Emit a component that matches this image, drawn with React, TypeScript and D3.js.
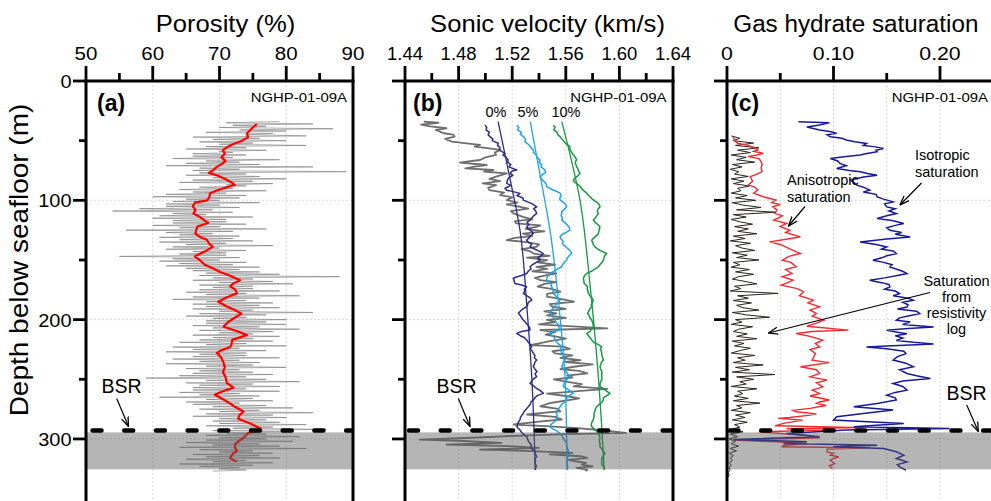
import React from "react";
import * as d3 from "d3";

type Pair = [number, number]; // [depth (m), value]

const FONT = "'Liberation Sans', Arial, Helvetica, sans-serif";

// ---------------- shared depth axis ----------------
const depthMajor = [0, 100, 200, 300];
const depthLabels = ["0", "100", "200", "300"];
const depthMinor = [50, 150, 250];
const bsrDepth = 293;
const freeGasTop = 294.5;
const freeGasBottom = 325.5;

// ---------------- panel a: porosity ----------------
const porMajor = [50, 60, 70, 80, 90];
const porLabels = ["50", "60", "70", "80", "90"];
const porMinor = [55, 65, 75, 85];
const porGrid = [60, 70, 80];
const porRawStart = 34;
const porRawStep = 1;
const porRaw = [
  79, 71, 84, 72, 77, 70, 87, 73, 80, 68, 78, 74, 83, 66,
  76, 69, 80, 67, 75, 70, 83, 68, 74, 65, 77, 70, 72, 66,
  74, 66, 72, 63, 79, 68, 73, 65, 76, 62, 84, 67, 73, 66,
  89, 67, 74, 65, 76, 69, 80, 66, 75, 64, 78, 71, 74, 67,
  72, 64, 77, 66, 71, 62, 74, 60, 73, 65, 70, 63, 76, 62,
  70, 62, 73, 58, 69, 54, 72, 63, 68, 61, 75, 60, 71, 63,
  71, 63, 74, 60, 70, 64, 77, 56, 72, 62, 69, 64, 73, 61,
  72, 64, 75, 61, 71, 65, 78, 63, 70, 62, 74, 66, 71, 64,
  71, 55, 73, 63, 70, 61, 74, 64, 72, 62, 76, 65, 73, 66,
  76, 68, 79, 67, 88, 69, 75, 66, 78, 70, 81, 67, 75, 69,
  75, 67, 79, 65, 74, 68, 82, 66, 76, 63, 74, 68, 78, 66,
  76, 68, 79, 66, 75, 70, 84, 67, 77, 65, 74, 69, 80, 68,
  77, 68, 80, 66, 76, 69, 82, 67, 78, 70, 75, 66, 79, 69,
  75, 67, 78, 64, 74, 68, 80, 63, 73, 66, 77, 62, 74, 67,
  74, 66, 79, 63, 73, 67, 76, 62, 75, 68, 80, 65, 73, 67,
  75, 66, 78, 64, 74, 59, 77, 68, 82, 65, 75, 67, 79, 66,
  74, 66, 79, 64, 73, 67, 76, 61, 75, 68, 78, 65, 73, 66,
  77, 69, 81, 67, 76, 70, 84, 68, 78, 66, 80, 70, 77, 69,
  79, 70, 83, 68, 78, 72, 86, 69, 80, 71, 77, 68, 82, 70,
  77, 68, 81, 65, 76, 69, 79, 64, 83, 67, 75, 70, 78, 66,
  76, 68, 79, 65, 74, 69, 78, 64, 75, 67, 73, 70, 74, 69,
];
const porSmooth: Pair[] = [
  [36, 75.6], [40, 74.8], [44, 74.1], [47, 74.3], [50, 73.4], [53, 72.0], [56, 71.0], [58, 70.5],
  [61, 70.8], [64, 70.3], [67, 70.9], [69, 70.5], [72, 69.6], [75, 69.0], [77, 68.4], [79, 69.6],
  [82, 70.8], [85, 71.8], [87, 72.3], [90, 70.6], [92, 69.5], [94, 68.6], [97, 68.5], [100, 68.2],
  [102, 66.3], [105, 66.0], [108, 66.4], [111, 66.1], [114, 67.1], [117, 67.8], [119, 68.3],
  [122, 66.7], [125, 66.5], [128, 66.4], [131, 67.2], [133, 68.1], [136, 68.4], [139, 69.0],
  [142, 68.1], [145, 67.0], [147, 66.3], [150, 67.0], [154, 67.8], [157, 69.0], [160, 70.1],
  [163, 71.5], [167, 73.1], [170, 72.0], [172, 71.6], [175, 72.4], [178, 72.6], [181, 71.2],
  [185, 69.8], [189, 71.1], [192, 72.3], [195, 73.3], [198, 72.4], [202, 71.3], [206, 70.6],
  [210, 72.8], [213, 74.1], [217, 71.9], [221, 71.8], [223, 71.6], [226, 70.2], [228, 69.6],
  [232, 70.3], [236, 70.6], [240, 70.8], [244, 70.5], [248, 70.9], [253, 71.1], [257, 72.1],
  [260, 70.5], [263, 69.3], [267, 70.6], [270, 71.5], [273, 72.3], [277, 73.6], [280, 73.0],
  [283, 72.8], [287, 74.6], [291, 76.1], [293, 75.5], [295, 74.3], [298, 73.8], [301, 73.1],
  [304, 72.4], [307, 72.3], [310, 72.6], [312, 72.1], [314, 71.8], [316, 71.6], [318, 72.2], [319, 72.6],
];

// ---------------- panel b: sonic velocity ----------------
const velMajor = [1.44, 1.48, 1.52, 1.56, 1.6, 1.64];
const velLabels = ["1.44", "1.48", "1.52", "1.56", "1.60", "1.64"];
const velMinor = [1.46, 1.5, 1.54, 1.58, 1.62];
const velGrid = [1.48, 1.52, 1.56, 1.6];
const velMeasured: Pair[] = [
  [34, 1.454], [35, 1.465], [36.5, 1.452], [38, 1.459], [39.6, 1.471], [41, 1.463], [43.8, 1.469],
  [45, 1.476], [46.6, 1.477], [48.5, 1.47], [50.8, 1.475], [52.2, 1.486], [53.6, 1.496], [55, 1.492],
  [56.4, 1.503], [57.8, 1.511], [60, 1.507], [62, 1.508], [64, 1.5], [66.2, 1.496], [67.5, 1.486],
  [68.4, 1.481], [70.4, 1.501], [71.8, 1.492], [73.2, 1.485], [74.6, 1.506], [76, 1.499], [77.5, 1.516],
  [80.2, 1.508], [82, 1.503], [84, 1.511], [85.8, 1.498], [87.2, 1.508], [89.5, 1.502], [91.4, 1.503],
  [93.5, 1.514], [95.6, 1.511], [97.5, 1.52], [99.8, 1.516], [102, 1.524], [103.5, 1.516], [105.4, 1.526],
  [107, 1.532], [109, 1.519], [111, 1.521], [113.8, 1.528], [116, 1.535], [117.5, 1.522], [119.4, 1.523],
  [121, 1.541], [122.2, 1.538], [124, 1.53], [126, 1.544], [127.9, 1.528], [130, 1.535], [131.5, 1.522],
  [133.4, 1.516], [135, 1.531], [137, 1.54], [139, 1.538], [141, 1.527], [142.5, 1.533], [144.6, 1.536],
  [146.5, 1.548], [148, 1.531], [150.1, 1.546], [152, 1.539], [154, 1.552], [155.7, 1.538], [157.5, 1.546],
  [159.5, 1.535], [161.3, 1.553], [163, 1.545], [165, 1.537], [166.9, 1.541], [168.5, 1.553], [170, 1.544],
  [172.4, 1.539], [174.5, 1.55], [176.6, 1.556], [178.5, 1.546], [180.8, 1.546], [183, 1.558], [185, 1.566],
  [187, 1.548], [189.2, 1.55], [191, 1.56], [193, 1.544], [194.7, 1.553], [196.5, 1.546], [198.5, 1.56],
  [200.3, 1.546], [202, 1.552], [204, 1.54], [205.5, 1.562], [207.3, 1.591], [208.7, 1.541], [210.5, 1.552],
  [212.5, 1.545], [214.3, 1.553], [216, 1.56], [218, 1.548], [220, 1.54], [221.3, 1.533], [222.7, 1.558],
  [224.5, 1.563], [226.5, 1.55], [228.3, 1.552], [230, 1.565], [232, 1.556], [233.9, 1.571], [235.5, 1.56],
  [237.5, 1.58], [239.5, 1.566], [241.5, 1.556], [243, 1.57], [245, 1.576], [247, 1.561], [248.5, 1.565],
  [250, 1.551], [252, 1.56], [254, 1.572], [256, 1.566], [258, 1.591], [260, 1.569], [262, 1.546],
  [264, 1.56], [266, 1.57], [268, 1.559], [270, 1.548], [272.6, 1.541], [274.5, 1.553], [276.8, 1.556],
  [278, 1.545], [279.5, 1.531], [281.5, 1.552], [283.7, 1.557], [285.5, 1.54], [287.9, 1.521], [289.5, 1.548],
  [290.7, 1.566], [292.5, 1.585], [294.9, 1.605], [296, 1.56], [297.7, 1.517], [299, 1.49], [300.5, 1.451],
  [301.5, 1.48], [303.3, 1.512], [304.7, 1.471], [306.1, 1.518], [307.5, 1.54], [308.9, 1.496], [310, 1.53],
  [311.7, 1.565], [313, 1.548], [314.5, 1.571], [315.9, 1.576], [317.5, 1.562], [318.7, 1.567], [320, 1.575],
  [321.5, 1.572], [323, 1.58], [324.3, 1.568], [326, 1.576], [327, 1.575],
];
const vel0: Pair[] = [
  [37, 1.4997], [39, 1.501], [41, 1.5005], [43, 1.503], [45, 1.502], [46.6, 1.5034], [48.5, 1.5055], [50, 1.505],
  [52.2, 1.5096], [54, 1.509], [56, 1.511], [58, 1.5105], [60.6, 1.5146], [62, 1.513], [64, 1.5155], [66.2, 1.517],
  [68, 1.5165], [70, 1.519], [72, 1.5175], [74.6, 1.5234], [75.5, 1.52], [77.4, 1.5184], [79, 1.5205], [81, 1.5175],
  [83, 1.5165], [85.8, 1.5159], [87.5, 1.519], [89.9, 1.5146], [91.5, 1.516], [92.5, 1.52], [94.2, 1.5258],
  [96, 1.5235], [98, 1.528], [99.8, 1.5283], [101.5, 1.532], [103, 1.535], [105.4, 1.5383], [107, 1.536],
  [109, 1.5375], [111, 1.5383], [113, 1.536], [115, 1.5345], [116.6, 1.5333], [118.5, 1.531], [120.5, 1.5325],
  [122.2, 1.5308], [124, 1.532], [126, 1.5345], [127.8, 1.5358], [129.5, 1.534], [131.5, 1.5325], [133.4, 1.5308],
  [135, 1.532], [137, 1.5345], [139, 1.5333], [141, 1.537], [142.8, 1.5405], [144.6, 1.5432], [146.5, 1.5415],
  [148.5, 1.539], [150.1, 1.5408], [152, 1.538], [154, 1.535], [155.7, 1.5333], [157.5, 1.534], [159.5, 1.532],
  [161.3, 1.5308], [163, 1.527], [164.5, 1.5225], [165.5, 1.5208], [167.5, 1.5215], [169.7, 1.522], [171, 1.527],
  [172.4, 1.5308], [174.5, 1.529], [176, 1.5295], [178, 1.5283], [180, 1.531], [181.8, 1.5335], [183.6, 1.5346],
  [185.5, 1.532], [187.5, 1.5315], [189.2, 1.5308], [191, 1.528], [193, 1.526], [194.7, 1.5246], [196.5, 1.526],
  [198.5, 1.527], [200.3, 1.5283], [202.5, 1.53], [204.5, 1.5315], [206.5, 1.533], [208.7, 1.5333], [210, 1.527],
  [211.5, 1.5234], [213.5, 1.526], [215, 1.529], [217, 1.5308], [219, 1.532], [220.8, 1.5335], [222.6, 1.5346],
  [224.5, 1.5335], [226.5, 1.535], [228.2, 1.5358], [230, 1.537], [232, 1.5365], [233.8, 1.5383], [235.5, 1.537],
  [237.5, 1.5365], [239.4, 1.5358], [241.5, 1.537], [243.5, 1.5385], [245.5, 1.537], [247.8, 1.5383], [250, 1.5355],
  [251.5, 1.5345], [253.4, 1.5333], [255.5, 1.536], [257.5, 1.538], [259.5, 1.541], [261.8, 1.5433], [263.5, 1.539],
  [265.5, 1.537], [267.4, 1.5358], [269, 1.534], [271, 1.5335], [273, 1.532], [275, 1.5305], [276.8, 1.529],
  [278.5, 1.5283], [280.5, 1.527], [282.5, 1.526], [284.1, 1.5258], [286, 1.5245], [287.8, 1.524], [289.7, 1.5234],
  [291, 1.5245], [292.5, 1.5258], [294.5, 1.527], [296.5, 1.529], [298, 1.5308], [300, 1.5315], [301.8, 1.532],
  [303.6, 1.5333], [305.5, 1.5345], [307.5, 1.5335], [309.2, 1.5358], [311, 1.537], [313, 1.5375], [314.8, 1.5383],
  [316.5, 1.537], [318.5, 1.5375], [320.4, 1.537], [322.5, 1.538], [324.5, 1.5375], [326, 1.5372],
];
const vel5: Pair[] = [
  [37, 1.5234], [39, 1.525], [41, 1.524], [43, 1.527], [44.5, 1.526], [46.6, 1.5283], [49, 1.53], [51, 1.5295],
  [53, 1.532], [55, 1.5335], [57.8, 1.5358], [60, 1.536], [62, 1.538], [64, 1.5385], [66.2, 1.5408], [68, 1.54],
  [70, 1.542], [72, 1.5415], [74.6, 1.5445], [76.5, 1.545], [78.5, 1.5425], [80.5, 1.5408], [82.5, 1.542],
  [84.5, 1.544], [86.5, 1.5455], [88.5, 1.5457], [90.5, 1.549], [92, 1.552], [94, 1.5557], [96, 1.5565],
  [98, 1.5555], [99.7, 1.5557], [101.5, 1.558], [103.5, 1.56], [105.4, 1.5607], [107.5, 1.559], [109.5, 1.557],
  [111, 1.557], [113, 1.5565], [114.8, 1.5575], [116.6, 1.557], [118.5, 1.559], [120.5, 1.561], [122.5, 1.5625],
  [125, 1.5631], [127, 1.56], [128.8, 1.557], [130.6, 1.5557], [132.5, 1.5565], [134.3, 1.558], [136.2, 1.5575],
  [138, 1.559], [140, 1.561], [142.5, 1.5635], [144.6, 1.5644], [146.5, 1.5625], [148.5, 1.561], [150.1, 1.5607],
  [152, 1.559], [154, 1.5575], [155.7, 1.557], [157.5, 1.554], [159.5, 1.551], [161.3, 1.5482], [163, 1.547],
  [165, 1.546], [166.9, 1.5457], [168.5, 1.5475], [170.5, 1.549], [172.4, 1.5495], [174.5, 1.55], [176.5, 1.5505],
  [178, 1.5507], [180, 1.5525], [182, 1.554], [183.6, 1.5557], [185.5, 1.5545], [187.5, 1.5525], [189.2, 1.552],
  [191, 1.55], [193, 1.549], [194.7, 1.5482], [196.5, 1.5495], [198.5, 1.551], [200.3, 1.552], [202.5, 1.553],
  [204.5, 1.5545], [206.5, 1.555], [208.7, 1.5557], [210, 1.5515], [211.5, 1.5482], [213.5, 1.55], [215, 1.5515],
  [217, 1.552], [219, 1.5535], [220.8, 1.555], [222.6, 1.557], [224.5, 1.556], [226.5, 1.5565], [228.2, 1.557],
  [230, 1.558], [232, 1.5585], [233.8, 1.5594], [236, 1.558], [238, 1.5575], [239.4, 1.557], [241.5, 1.558],
  [243.5, 1.56], [245.5, 1.5615], [247.8, 1.5632], [250, 1.561], [252, 1.5595], [254, 1.5585], [256, 1.5581],
  [258, 1.561], [260, 1.5635], [261.8, 1.5656], [263.5, 1.563], [265.5, 1.5605], [267.4, 1.5607], [269, 1.559],
  [271, 1.557], [273, 1.5557], [275, 1.5545], [276.8, 1.5535], [278.5, 1.553], [280.5, 1.5535], [282.5, 1.553],
  [284.1, 1.5532], [286, 1.551], [287.8, 1.549], [289.7, 1.5482], [291.5, 1.55], [293, 1.5532], [295, 1.555],
  [297, 1.557], [299.4, 1.5581], [301.5, 1.5595], [303.5, 1.5605], [306.5, 1.5607], [308.5, 1.5615], [310.5, 1.562],
  [312, 1.5632], [314, 1.562], [316, 1.561], [317.7, 1.5607], [319.5, 1.561], [321.5, 1.5605], [323.3, 1.5615], [325.5, 1.561],
];
const vel10: Pair[] = [
  [37, 1.5507], [39, 1.552], [41, 1.551], [43, 1.5535], [45, 1.554], [46.6, 1.5557], [48.5, 1.557], [50.5, 1.5585],
  [52.5, 1.56], [55, 1.5631], [57, 1.563], [59, 1.564], [61, 1.565], [63, 1.5665], [66, 1.5681], [68, 1.567],
  [70, 1.5675], [71.8, 1.5681], [73.5, 1.569], [75.5, 1.5695], [77.4, 1.5706], [79.5, 1.569], [81.5, 1.5665],
  [83.5, 1.5656], [85.5, 1.5675], [87.5, 1.57], [89.5, 1.5715], [91.5, 1.573], [94.1, 1.5756], [96, 1.577],
  [98, 1.579], [99.7, 1.5805], [101.5, 1.583], [103.5, 1.585], [105.4, 1.5855], [107.5, 1.584], [109.5, 1.5835],
  [111, 1.5843], [113, 1.583], [114.8, 1.582], [116.6, 1.5805], [118.5, 1.582], [120.5, 1.584], [122.2, 1.5855],
  [124.5, 1.585], [126.5, 1.5845], [128, 1.5843], [130, 1.5825], [131.5, 1.581], [133.4, 1.5793], [135, 1.58],
  [137, 1.5805], [139, 1.5818], [141, 1.584], [142.8, 1.587], [144.6, 1.5905], [146.5, 1.589], [148.5, 1.5885],
  [150.1, 1.588], [152, 1.587], [154, 1.5855], [155.7, 1.5843], [157.5, 1.582], [159.5, 1.579], [161.3, 1.5756],
  [163, 1.574], [165.5, 1.5731], [167.5, 1.5735], [169.7, 1.5737], [171, 1.575], [172.4, 1.5762], [174.5, 1.576],
  [176, 1.5765], [178, 1.5768], [180, 1.578], [181.8, 1.5795], [183.6, 1.5805], [185.5, 1.58], [187.5, 1.579],
  [189.2, 1.5793], [191, 1.578], [193, 1.577], [194.7, 1.5762], [196.5, 1.5775], [198.5, 1.578], [200.3, 1.5793],
  [202.5, 1.58], [204.5, 1.5805], [206, 1.5805], [208, 1.579], [210, 1.578], [211.5, 1.5756], [213.5, 1.577],
  [215, 1.578], [217, 1.5793], [219, 1.581], [220.8, 1.584], [222.6, 1.5868], [224.5, 1.586], [226.5, 1.5865],
  [228.2, 1.5868], [230, 1.587], [232, 1.5875], [233.8, 1.588], [236, 1.5865], [238, 1.586], [239.4, 1.5855],
  [241.5, 1.586], [243.5, 1.587], [245.5, 1.5868], [247.8, 1.5868], [250, 1.587], [252, 1.586], [254, 1.5855],
  [256, 1.5855], [258, 1.588], [260, 1.5905], [261.8, 1.593], [263.5, 1.591], [265.5, 1.588], [267.4, 1.588],
  [269, 1.587], [271, 1.585], [273, 1.583], [275, 1.582], [276.8, 1.5818], [278.5, 1.581], [280.5, 1.5812],
  [282.5, 1.5808], [284, 1.5805], [286, 1.5795], [287.8, 1.579], [289.7, 1.5793], [291.5, 1.581], [293, 1.5825],
  [295, 1.584], [297, 1.585], [299.4, 1.5855], [301.5, 1.585], [303.5, 1.5855], [306.5, 1.5855], [308.5, 1.587],
  [310.5, 1.588], [312, 1.5893], [314, 1.588], [316, 1.587], [317.7, 1.5868], [319.5, 1.587], [321.5, 1.5868],
  [323.3, 1.5885], [325.5, 1.5887],
];
const trend0: Pair[] = [[34, 1.5095], [80, 1.518], [125, 1.5258], [190, 1.531], [248, 1.5346], [326, 1.5372]];
const trend5: Pair[] = [[34, 1.5335], [80, 1.541], [125, 1.5482], [190, 1.555], [248, 1.5594], [326, 1.561]];
const trend10: Pair[] = [[34, 1.557], [100, 1.5706], [170, 1.578], [248, 1.5843], [326, 1.5887]];
const trendLabels = ["0%", "5%", "10%"];

// ---------------- panel c: gas hydrate saturation ----------------
const satMajor = [0, 0.1, 0.2];
const satLabels = ["0", "0.10", "0.20"];
const satMinor = [0.05, 0.15, 0.25];
const satGrid = [0.05, 0.1, 0.15, 0.2, 0.25];
const satResStart = 46;
const satResStep = 2;
const satResistivity = [
  0.004, 0.012, 0.006, 0.025, 0.008, 0.03, 0.01, 0.022, 0.004, 0.018,
  0.009, 0.026, 0.005, 0.014, 0.003, 0.011, 0.007, 0.02, 0.004, 0.016,
  0.006, 0.021, 0.01, 0.013, 0.004, 0.019, 0.008, 0.027, 0.005, 0.015,
  0.032, 0.009, 0.046, 0.006, 0.018, 0.004, 0.012, 0.024, 0.007, 0.02,
  0.01, 0.028, 0.006, 0.017, 0.003, 0.022, 0.008, 0.014, 0.026, 0.005,
  0.019, 0.009, 0.03, 0.006, 0.012, 0.004, 0.021, 0.008, 0.025, 0.011,
  0.005, 0.017, 0.028, 0.007, 0.013, 0.003, 0.048, 0.01, 0.02, 0.006,
  0.023, 0.009, 0.015, 0.03, 0.005, 0.018, 0.04, 0.008, 0.014, 0.004,
  0.024, 0.011, 0.006, 0.019, 0.009, 0.028, 0.005, 0.016, 0.007, 0.022,
  0.012, 0.004, 0.026, 0.01, 0.017, 0.006, 0.034, 0.008, 0.021, 0.005,
  0.045, 0.009, 0.025, 0.012, 0.018, 0.004, 0.028, 0.01, 0.015, 0.007,
  0.02, 0.006, 0.031, 0.009, 0.014, 0.004, 0.022, 0.008, 0.017, 0.005,
  0.019, 0.007, 0.012, 0.004, 0.015, 0.003, 0.01, 0.002, 0.008, 0.004,
  0.011, 0.003, 0.009, 0.002, 0.006, 0.003, 0.005, 0.002, 0.004, 0.002,
  0.003, 0.001, 0.002, 0.001,
];
const satAniso: Pair[] = [
  [46.6, 0.006], [50, 0.007], [52.2, 0.01], [54, 0.02], [56, 0.026], [57.8, 0.029], [59, 0.025], [60.6, 0.034],
  [62, 0.028], [63.4, 0.02], [65, 0.03], [67.6, 0.032], [70, 0.033], [73, 0.032], [76, 0.033], [78, 0.028],
  [80.2, 0.022], [84, 0.024], [87.2, 0.02], [89, 0.026], [91.4, 0.029], [94, 0.025], [97, 0.034], [99.8, 0.046],
  [102, 0.042], [103.5, 0.05], [105.4, 0.043], [108, 0.047], [111, 0.045], [113, 0.052], [116.6, 0.044],
  [119.4, 0.056], [122, 0.05], [125, 0.059], [127, 0.055], [130.6, 0.069], [132, 0.06], [134.8, 0.04], [137, 0.05],
  [139, 0.055], [142, 0.062], [144.6, 0.069], [147, 0.058], [150.2, 0.052], [152, 0.06], [155.7, 0.065], [158, 0.055],
  [161.3, 0.061], [164, 0.052], [166.9, 0.062], [169, 0.057], [171.1, 0.051], [174, 0.066], [176.7, 0.072], [180, 0.068],
  [183.7, 0.081], [186, 0.076], [189.3, 0.087], [192, 0.078], [194.9, 0.084], [197, 0.08], [200.5, 0.091], [203, 0.084],
  [205.5, 0.075], [208.8, 0.114], [210, 0.08], [211.6, 0.065], [214, 0.078], [217.2, 0.09], [220, 0.083], [222.8, 0.087],
  [225, 0.078], [228.4, 0.083], [233.9, 0.08], [236, 0.096], [239.5, 0.069], [242, 0.084], [245.1, 0.087], [248, 0.078],
  [250.7, 0.094], [253, 0.084], [256.3, 0.09], [259, 0.08], [261.9, 0.087], [264, 0.078], [267.4, 0.096], [269, 0.087],
  [270.2, 0.084], [272, 0.093], [274.4, 0.078], [276, 0.062], [277.2, 0.065], [279, 0.084], [280, 0.078], [282, 0.059],
  [282.8, 0.048], [284.2, 0.071], [287, 0.053], [289, 0.045], [290.5, 0.128], [291.5, 0.056], [292.6, 0.094], [294, 0.03],
  [296.8, 0.071], [299, 0.087], [301, 0.006], [302.4, 0.047], [303.8, 0.075], [305.5, 0.053], [306.6, 0.052], [307.5, 0.134],
  [308.5, 0.094], [310.8, 0.094], [312, 0.1], [313.6, 0.097], [315, 0.105], [316.4, 0.1], [318, 0.097], [320.6, 0.101],
  [322.5, 0.096], [324.8, 0.099],
];
const satIso: Pair[] = [
  [34.1, 0.067], [35, 0.096], [36.9, 0.087], [38.5, 0.075], [41.1, 0.087], [42.5, 0.098], [43.9, 0.103], [45, 0.094],
  [46.7, 0.097], [48, 0.108], [49.5, 0.112], [51, 0.12], [52.3, 0.131], [54, 0.128], [55, 0.138], [56.5, 0.147],
  [58, 0.14], [59.3, 0.141], [61, 0.13], [62.1, 0.125], [63.5, 0.11], [64.9, 0.097], [67, 0.104], [69.1, 0.106],
  [71, 0.112], [73.3, 0.103], [75, 0.115], [76.1, 0.125], [77.5, 0.132], [78.9, 0.141], [80.5, 0.128], [83.1, 0.116],
  [85, 0.119], [87.3, 0.122], [89, 0.128], [91.5, 0.134], [93, 0.128], [95, 0.14], [97.1, 0.141], [99, 0.147],
  [101.3, 0.156], [103, 0.148], [105.5, 0.15], [107, 0.158], [109, 0.152], [111.1, 0.159], [113, 0.15], [115.3, 0.141],
  [117, 0.155], [119.5, 0.166], [121, 0.158], [123, 0.15], [125.1, 0.153], [127, 0.164], [128.5, 0.158], [130.7, 0.172],
  [132.5, 0.15], [134.9, 0.125], [137, 0.14], [139.1, 0.15], [141, 0.145], [142.5, 0.156], [144.7, 0.159], [146.5, 0.15],
  [148, 0.146], [150.3, 0.137], [152, 0.147], [154, 0.155], [155.8, 0.153], [158, 0.16], [159.5, 0.165], [161.4, 0.169],
  [163, 0.16], [165, 0.148], [167, 0.134], [169, 0.145], [170.5, 0.152], [172.6, 0.153], [174.5, 0.148], [176, 0.158],
  [178.2, 0.162], [180, 0.156], [182, 0.17], [183.8, 0.175], [185.5, 0.165], [187.5, 0.17], [189.4, 0.169], [191, 0.16],
  [193, 0.178], [195, 0.181], [197, 0.17], [198.5, 0.162], [200.6, 0.159], [202, 0.172], [204, 0.165], [206.2, 0.194],
  [207.5, 0.17], [209, 0.15], [210.5, 0.16], [211.8, 0.169], [213.5, 0.158], [215.5, 0.165], [217.4, 0.159], [219, 0.175],
  [220.5, 0.194], [222, 0.15], [223, 0.131], [224.5, 0.15], [226.5, 0.166], [228.6, 0.168], [231, 0.16], [233.9, 0.156],
  [236.5, 0.168], [239.5, 0.175], [242, 0.162], [245.1, 0.169], [247, 0.178], [249.3, 0.191], [251.5, 0.165], [253.5, 0.156],
  [256, 0.165], [259.1, 0.169], [261, 0.158], [263.3, 0.15], [265.5, 0.158], [267.4, 0.159], [270.2, 0.141], [273, 0.119],
  [275.8, 0.156], [278.6, 0.128], [281.4, 0.103], [284.2, 0.1], [287, 0.166], [289.8, 0.119], [291.2, 0.209], [292.6, 0.112],
  [295.4, 0.056], [298.2, 0.087], [300.4, 0.006], [302.4, 0.075], [303.8, 0.053], [305.2, 0.141], [306.6, 0.1], [308, 0.147],
  [310.8, 0.159], [313.6, 0.166], [316.4, 0.159], [319.2, 0.169], [321.5, 0.16], [323.4, 0.162], [326.2, 0.168],
];

// ---------------- layout ----------------
const y = d3.scaleLinear().domain([0, 350]).range([81, 498.6]);
const xPor = d3.scaleLinear().domain([50, 90]).range([86, 353]);
const xVel = d3.scaleLinear().domain([1.44, 1.64]).range([405, 673]);
const xSat = d3.scaleLinear().domain([0, 0.3]).range([727, 1046.5]);

function lineFor(x: d3.ScaleLinear<number, number>, curve: d3.CurveFactory = d3.curveLinear) {
  return d3.line<Pair>().x((p) => x(p[1])).y((p) => y(p[0])).curve(curve);
}
const toPairs = (start: number, step: number, vals: number[]): Pair[] =>
  vals.map((v, i) => [start + i * step, v] as Pair);

function T(props: {
  x: number; y: number; size: number; anchor?: string; weight?: string | number; sx?: number; children: React.ReactNode;
}) {
  const { x, y: yy, size, anchor = "start", weight = "normal", sx = 1, children } = props;
  return (
    <text transform={`translate(${x},${yy}) scale(${sx},1)`} fontSize={size} textAnchor={anchor as any} fontWeight={weight as any} fill="#000">
      {children}
    </text>
  );
}

function PanelFrame(props: {
  x: d3.ScaleLinear<number, number>; left: number; right: number; rightBorder: boolean;
  major: number[]; labels: string[]; minor: number[]; labelSize: number; labelSx: number;
}) {
  const { x, left, right, rightBorder, major, labels, minor, labelSize, labelSx } = props;
  const top = y(0);
  return (
    <g>
      {major.map((v, i) => (
        <g key={"M" + i}>
          <line x1={x(v)} x2={x(v)} y1={top} y2={top - 15} stroke="#000" strokeWidth={2.8} />
          <T x={x(v)} y={60} size={labelSize} anchor="middle" sx={labelSx}>{labels[i]}</T>
        </g>
      ))}
      {minor.map((v, i) => (
        <line key={"m" + i} x1={x(v)} x2={x(v)} y1={top} y2={top - 8} stroke="#000" strokeWidth={2.8} />
      ))}
      {depthMajor.map((d, i) => (
        <line key={"dM" + i} x1={left - 13} x2={left} y1={y(d)} y2={y(d)} stroke="#000" strokeWidth={2.8} />
      ))}
      {depthMinor.map((d, i) => (
        <line key={"dm" + i} x1={left - 7} x2={left} y1={y(d)} y2={y(d)} stroke="#000" strokeWidth={2.8} />
      ))}
      <line x1={left} x2={left} y1={top} y2={505} stroke="#000" strokeWidth={3} />
      {rightBorder && <line x1={right} x2={right} y1={top} y2={505} stroke="#000" strokeWidth={3} />}
      <line x1={left - 1.5} x2={right + 1.5} y1={top} y2={top} stroke="#000" strokeWidth={3} />
    </g>
  );
}

function Grid(props: { x: d3.ScaleLinear<number, number>; left: number; right: number; grid: number[] }) {
  const { x, left, right, grid } = props;
  return (
    <g stroke="#cfcfcf" strokeWidth={0.8} strokeDasharray="2 2">
      {grid.map((v, i) => (
        <line key={"g" + i} x1={x(v)} x2={x(v)} y1={y(0)} y2={505} />
      ))}
      {[100, 200, 300].map((d) => (
        <line key={"h" + d} x1={left} x2={right} y1={y(d)} y2={y(d)} />
      ))}
    </g>
  );
}

function ShadeAndBsr(props: { left: number; right: number; dashStart: number; dashEnd: number }) {
  const { left, right, dashStart, dashEnd } = props;
  return (
    <g>
      <rect x={left} width={right - left} y={y(freeGasTop)} height={y(freeGasBottom) - y(freeGasTop)} fill="#5a5a5a" opacity={0.45} />
      <line x1={dashStart} x2={dashEnd} y1={y(bsrDepth)} y2={y(bsrDepth)} stroke="#000" strokeWidth={4.5}
        strokeDasharray="9 22.7" strokeLinecap="round" />
    </g>
  );
}

export default function App() {
  const porL = lineFor(xPor);
  const velL = lineFor(xVel);
  const velTrend = lineFor(xVel, d3.curveMonotoneY);
  const satL = lineFor(xSat);

  const bsrLabels: { tx: number; ty: number; ax1: number; ay1: number; ax2: number; ay2: number }[] = [
    { tx: 101.5, ty: 393, ax1: 116.7, ay1: 398.5, ax2: 128.5, ay2: 426.5 },
    { tx: 436.5, ty: 393, ax1: 458.3, ay1: 398.5, ax2: 470, ay2: 426.5 },
    { tx: 946.5, ty: 400, ax1: 966.7, ay1: 405, ax2: 978.3, ay2: 431.5 },
  ];

  return (
    <svg width={991} height={501} viewBox="0 0 991 501"
      style={{ position: "absolute", left: 0, top: 0, display: "block", background: "#fff" }}
      fontFamily={FONT}>
      <defs>
        <marker id="arr" viewBox="0 0 10 8" refX={9.5} refY={4} markerWidth={10} markerHeight={8}
          markerUnits="userSpaceOnUse" orient="auto">
          <path d="M0,0.5 L9.5,4 L0,7.5" fill="none" stroke="#000" strokeWidth={1.3} />
        </marker>
      </defs>
      <rect x={0} y={0} width={991} height={501} fill="#fff" />

      {/* grids */}
      <Grid x={xPor} left={86} right={353} grid={porGrid} />
      <Grid x={xVel} left={405} right={673} grid={velGrid} />
      <Grid x={xSat} left={727} right={1000} grid={satGrid} />

      {/* panel a data */}
      <path d={porL(toPairs(porRawStart, porRawStep, porRaw)) || ""} fill="none" stroke="#767676" strokeWidth={0.9} strokeOpacity={0.65} />
      <path d={porL(porSmooth) || ""} fill="none" stroke="#ff0000" strokeWidth={2.2} strokeLinejoin="round" />

      {/* panel b data */}
      <path d={velL(velMeasured) || ""} fill="none" stroke="#6e6e6e" strokeWidth={1.8} strokeLinejoin="round" />
      <path d={velL(vel0) || ""} fill="none" stroke="#2f2c8c" strokeWidth={1.5} strokeLinejoin="round" />
      <path d={velL(vel5) || ""} fill="none" stroke="#1ea4e6" strokeWidth={1.5} strokeLinejoin="round" />
      <path d={velL(vel10) || ""} fill="none" stroke="#139a3f" strokeWidth={1.5} strokeLinejoin="round" />
      <path d={velTrend(trend0) || ""} fill="none" stroke="#2f2c8c" strokeWidth={1.3} />
      <path d={velTrend(trend5) || ""} fill="none" stroke="#1ea4e6" strokeWidth={1.3} />
      <path d={velTrend(trend10) || ""} fill="none" stroke="#139a3f" strokeWidth={1.3} />

      {/* panel c data */}
      <path d={satL(toPairs(satResStart, satResStep, satResistivity)) || ""} fill="none" stroke="#2b241f" strokeWidth={1.0} />
      <path d={satL(satAniso) || ""} fill="none" stroke="#ef2a30" strokeWidth={1.4} />
      <path d={satL(satIso) || ""} fill="none" stroke="#171a98" strokeWidth={1.5} />

      {/* hydrate-free zone & BSR */}
      <ShadeAndBsr left={86} right={353} dashStart={92.5} dashEnd={352} />
      <ShadeAndBsr left={405} right={673} dashStart={409} dashEnd={671} />
      <ShadeAndBsr left={727} right={1000} dashStart={729.5} dashEnd={1000} />

      {/* frames */}
      <PanelFrame x={xPor} left={86} right={353} rightBorder major={porMajor} labels={porLabels} minor={porMinor}
        labelSize={19} labelSx={1.08} />
      <PanelFrame x={xVel} left={405} right={673} rightBorder major={velMajor} labels={velLabels} minor={velMinor}
        labelSize={18.5} labelSx={1.0} />
      <PanelFrame x={xSat} left={727} right={1000} rightBorder={false} major={satMajor} labels={satLabels} minor={satMinor}
        labelSize={19} labelSx={1.12} />

      {/* depth labels */}
      {depthMajor.map((d, i) => (
        <T key={"dl" + i} x={71.5} y={y(d) + 7} size={19} anchor="end" sx={1.05}>{depthLabels[i]}</T>
      ))}
      <text transform={`translate(28,260) rotate(-90) scale(1.12,1)`} fontSize={25} textAnchor="middle" fill="#000">
        Depth below seafloor (m)
      </text>

      {/* titles */}
      <T x={225.5} y={31.5} size={23.3} anchor="middle" sx={1.1}>Porosity (%)</T>
      <T x={547.5} y={31.5} size={23.3} anchor="middle" sx={1.1}>Sonic velocity (km/s)</T>
      <T x={733.3} y={31.5} size={23.3} anchor="start" sx={1.04}>Gas hydrate saturation</T>

      {/* panel labels */}
      <T x={97} y={110.5} size={23} weight="bold">(a)</T>
      <T x={413} y={110.5} size={23} weight="bold">(b)</T>
      <T x={731} y={110.5} size={23} weight="bold">(c)</T>
      <T x={347} y={102} size={13} anchor="end" sx={1.15}>NGHP-01-09A</T>
      <T x={666.5} y={102} size={13} anchor="end" sx={1.15}>NGHP-01-09A</T>
      <T x={988} y={102} size={13} anchor="end" sx={1.15}>NGHP-01-09A</T>

      {/* trend labels */}
      <T x={496} y={116.5} size={14.5} anchor="middle">{trendLabels[0]}</T>
      <T x={528} y={116.5} size={14.5} anchor="middle">{trendLabels[1]}</T>
      <T x={566} y={116.5} size={14.5} anchor="middle">{trendLabels[2]}</T>

      {/* BSR annotations */}
      {bsrLabels.map((b, i) => (
        <g key={"bsr" + i}>
          <T x={b.tx} y={b.ty} size={19.5}>BSR</T>
          <line x1={b.ax1} y1={b.ay1} x2={b.ax2} y2={b.ay2} stroke="#000" strokeWidth={1.2} markerEnd="url(#arr)" />
        </g>
      ))}

      {/* panel c annotations */}
      <T x={787} y={185} size={14.5}>Anisotropic</T>
      <T x={787} y={201.5} size={14.5}>saturation</T>
      <line x1={805} y1={206.5} x2={788.5} y2={226} stroke="#000" strokeWidth={1.2} markerEnd="url(#arr)" />
      <T x={915} y={160} size={14.5}>Isotropic</T>
      <T x={915} y={176.5} size={14.5}>saturation</T>
      <line x1={921.5} y1={183} x2={900} y2={205} stroke="#000" strokeWidth={1.2} markerEnd="url(#arr)" />
      <T x={956.5} y={286} size={14.5} anchor="middle">Saturation</T>
      <T x={956.5} y={302} size={14.5} anchor="middle">from</T>
      <T x={956.5} y={318} size={14.5} anchor="middle">resistivity</T>
      <T x={956.5} y={334} size={14.5} anchor="middle">log</T>
      <line x1={930} y1={292.5} x2={768.5} y2={333} stroke="#000" strokeWidth={1.2} markerEnd="url(#arr)" />
    </svg>
  );
}
